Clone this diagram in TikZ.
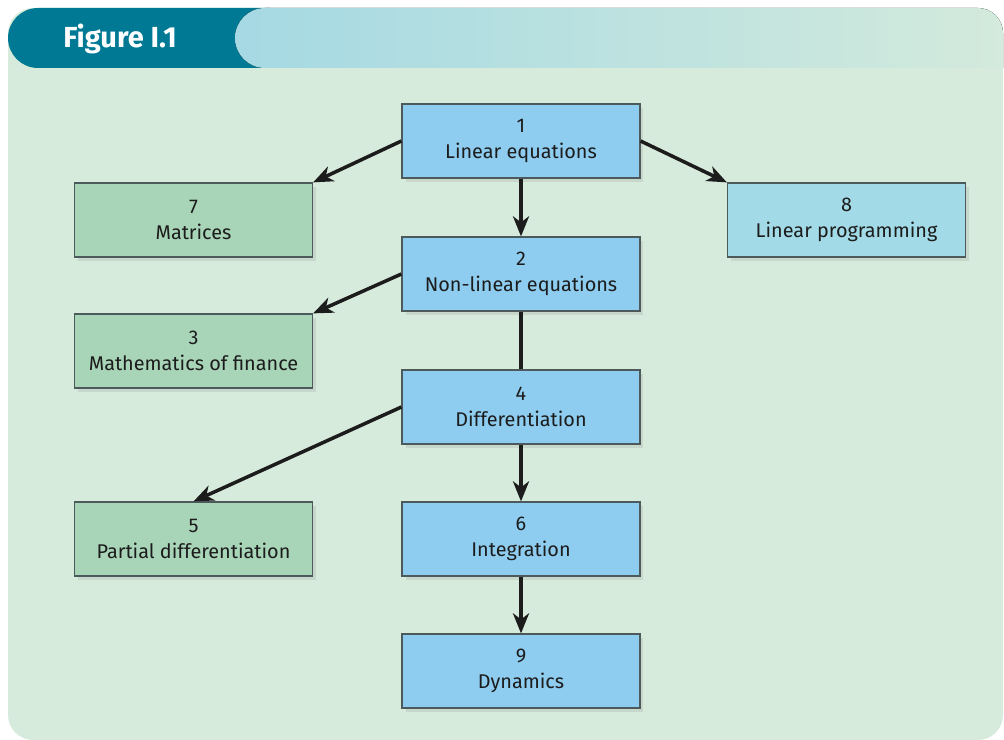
\documentclass[tikz,border=0pt]{standalone}
\usepackage{fontspec}
\setmainfont{Fira Sans}
\usetikzlibrary{arrows.meta,shadows}
\definecolor{panelbg}{HTML}{D7EBDD}
\definecolor{teal}{HTML}{007A94}
\definecolor{barleft}{HTML}{A5D9E3}
\definecolor{barright}{HTML}{D3EADC}
\definecolor{boxblue}{HTML}{8ECDF0}
\definecolor{boxgreen}{HTML}{A8D5B8}
\definecolor{boxcyan}{HTML}{A2DBE7}
\definecolor{edge}{HTML}{4D5A5C}
\definecolor{ink}{HTML}{1C1C1C}
\begin{document}
\begin{tikzpicture}[x=0.02cm, y=-0.02cm,
topic/.style={draw=edge, line width=0.7pt, minimum width=4.76cm, minimum height=1.48cm,
  align=center, text=ink, font=\fontsize{11.3}{15}\selectfont,
  drop shadow={opacity=0.18, shadow xshift=2pt, shadow yshift=-2.5pt}},
core/.style={topic, fill=boxblue},
side/.style={topic, fill=boxgreen},
lp/.style={topic, fill=boxcyan},
arrow/.style={-{Stealth[length=0.4cm, width=0.32cm, inset=0.12cm]}, line width=2pt, draw=ink},
link/.style={line width=2pt, draw=ink}
]
\useasboundingbox (0,0) rectangle (1004,740);
% panel and title bar
\fill[panelbg, rounded corners=0.5cm] (8,8) rectangle (1003,740);
\fill[teal] (270,8) [rounded corners=0.6cm] -- (8,8) -- (8,68) [sharp corners] -- (270,68) -- cycle;
\fill[left color=barleft, right color=barright] (1003,40) [rounded corners=0.5cm] -- (1003,8) [rounded corners=0.6cm] -- (235,8) -- (235,68) [sharp corners] -- (1003,68) -- cycle;
\node[text=white, font=\fontsize{16.5}{19}\selectfont\bfseries] (title) at (120,39) {Figure I.1};
% topics
\node[core] (n1) at (521,141) {1\\Linear equations};
\node[side] (n7) at (193.5,220) {7\\Matrices};
\node[lp] (n8) at (846.5,220) {8\\Linear programming};
\node[core] (n2) at (521,274) {2\\Non-linear equations};
\node[side] (n3) at (193.5,351) {3\\Mathematics of finance};
\node[core] (n4) at (521,407) {4\\Differentiation};
\node[side] (n5) at (193.5,539) {5\\Partial differentiation};
\node[core] (n6) at (521,539) {6\\Integration};
\node[core] (n9) at (521,671) {9\\Dynamics};
% connectors
\draw[arrow] (n1.west) -- (n7.north east);
\draw[arrow] (n1.east) -- (n8.north west);
\draw[arrow] (n1) -- (n2);
\draw[arrow] (n2.west) -- (n3.north east);
\draw[link] (n2) -- (n4);
\draw[arrow] (n4.west) -- (n5.north);
\draw[arrow] (n4) -- (n6);
\draw[arrow] (n6) -- (n9);
\end{tikzpicture}
\end{document}
